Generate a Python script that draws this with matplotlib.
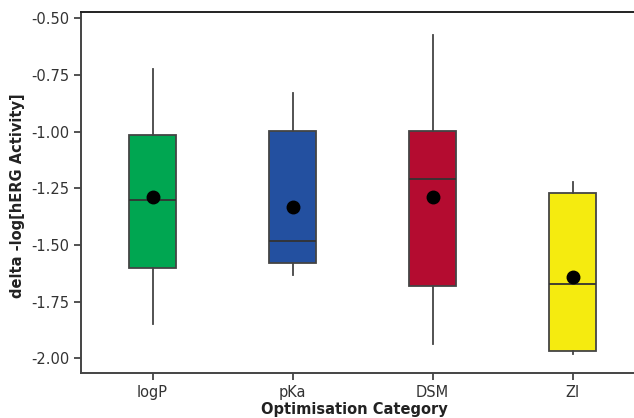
import matplotlib
matplotlib.use('Agg')
import matplotlib.pyplot as plt

# values
categories = ['logP', 'pKa', 'DSM', 'ZI']
whisker_low = [-1.849, -1.632, -1.937, -1.981]
q1 = [-1.603, -1.578, -1.680, -1.968]
median = [-1.301, -1.481, -1.210, -1.673]
q3 = [-1.012, -0.996, -0.996, -1.272]
whisker_high = [-0.721, -0.831, -0.574, -1.221]
mean = [-1.287, -1.331, -1.287, -1.640]
colors = ['#00a651', '#2350a0', '#b40c30', '#f5eb0f']
yticks = [-0.50, -0.75, -1.00, -1.25, -1.50, -1.75, -2.00]

edge = '#444444'

fig = plt.figure(figsize=(6.34, 4.18), dpi=100)
ax = fig.add_axes([0.128, 0.108, 0.89, 0.863])

stats = []
for i, cat in enumerate(categories):
    stats.append({'label': cat, 'whislo': whisker_low[i], 'q1': q1[i], 'med': median[i],
                  'q3': q3[i], 'whishi': whisker_high[i], 'mean': mean[i]})

pos = list(range(len(categories)))
bp = ax.bxp(stats, positions=pos, widths=0.333, patch_artist=True, showcaps=False,
            showfliers=False, showmeans=True,
            boxprops=dict(edgecolor=edge, linewidth=1.3),
            medianprops=dict(color='#333333', linewidth=1.3),
            whiskerprops=dict(color=edge, linewidth=1.3),
            meanprops=dict(marker='o', markerfacecolor='black', markeredgecolor='black',
                           markersize=9))
for patch, c in zip(bp['boxes'], colors):
    patch.set_facecolor(c)

ax.set_xlim(-0.51, 3.52)
ax.set_ylim(-2.0635, -0.472)
ax.set_yticks(yticks)
ax.set_yticklabels([f'{t:.2f}' for t in yticks])

for s in ['left', 'bottom', 'top']:
    ax.spines[s].set_color(edge)
    ax.spines[s].set_linewidth(1.4)
ax.spines['top'].set_color('#222222')
ax.spines['right'].set_visible(False)
ax.tick_params(axis='both', colors=edge, labelcolor='#333333', labelsize=10.5,
               length=5, width=1.3, direction='out')

ax.set_ylabel('delta -log[hERG Activity]', fontsize=10.5, fontweight='bold', color='#222222')
ax.set_xlabel('Optimisation Category', fontsize=10.5, fontweight='bold', color='#222222')
ax.yaxis.set_label_coords(-0.10, 0.49)
ax.xaxis.set_label_coords(0.485, -0.08)

fig.savefig('out.png', dpi=100)
